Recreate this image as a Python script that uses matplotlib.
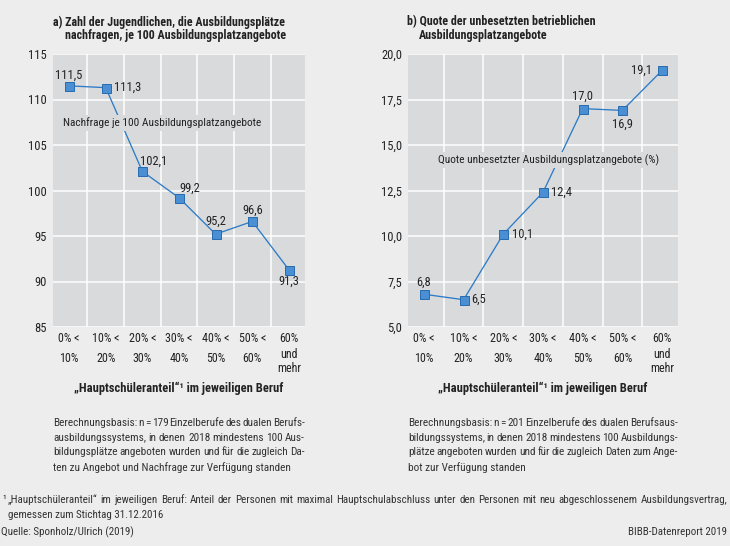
import matplotlib
matplotlib.use("Agg")
import matplotlib.pyplot as plt
import matplotlib.transforms as mtransforms

plt.rcParams['font.family'] = ['Liberation Sans Narrow', 'Roboto Condensed', 'DejaVu Sans']

# data
categories = [["0% <", "10%"], ["10% <", "20%"], ["20% <", "30%"], ["30% <", "40%"],
              ["40% <", "50%"], ["50% <", "60%"], ["60%", "und", "mehr"]]
nachfrage = [111.5, 111.3, 102.1, 99.2, 95.2, 96.6, 91.3]
quote = [6.8, 6.5, 10.1, 12.4, 17.0, 16.9, 19.1]
yticks_a = [85, 90, 95, 100, 105, 110, 115]
yticks_b = [5.0, 7.5, 10.0, 12.5, 15.0, 17.5, 20.0]

W, H = 730, 546
BG = "#ededee"
PLOT_BG = "#d9dadc"
LINE = "#2b7bc7"
MFACE = "#4a8fd4"
MEDGE = "#2a6cb0"
TXT = "#222222"
NOTE = "#333333"

fig = plt.figure(figsize=(W / 72, H / 72), dpi=72, facecolor=BG)
renderer = fig.canvas.get_renderer()


def fx(x):
    return x / W


def fy(y):
    return 1 - y / H


def text_width(s, size):
    t = fig.text(0, 0, s, fontsize=size)
    w = t.get_window_extent(renderer).width
    t.remove()
    return w


def justify(line, x0, x1, y, size):
    # spread the words of one line over x0..x1 (pixels)
    words = line.split()
    full = text_width(line, size)
    extra = (x1 - x0 - full) / max(len(words) - 1, 1)
    for k, w in enumerate(words):
        start = text_width(" ".join(words[:k + 1]), size) - text_width(w, size)
        fig.text(fx(x0 + start + k * extra), fy(y), w, fontsize=size, va="center",
                 color=NOTE)


def setup(ax, ylim, yticks, ylabels, xlim):
    ax.set_facecolor(PLOT_BG)
    for s in ax.spines.values():
        s.set_visible(False)
    ax.set_xlim(*xlim)
    ax.set_ylim(*ylim)
    ax.set_yticks(yticks)
    ax.set_yticklabels(ylabels, fontsize=12.5, color=TXT)
    ax.set_xticks([i + 0.5 for i in range(6)])
    ax.set_xticklabels([])
    ax.tick_params(length=0, pad=6)
    ax.grid(True, color="white", linewidth=1.5)
    ax.set_axisbelow(True)
    tr = mtransforms.blended_transform_factory(ax.transData, fig.transFigure)
    for i, lines in enumerate(categories):
        ys = [338, 359] if len(lines) == 2 else [338, 354, 369]
        for t, y in zip(lines, ys):
            ax.text(i, fy(y), t, transform=tr, ha="center", va="center",
                    fontsize=12, color=TXT)


def draw(ax, vals, fmt, offsets):
    x = list(range(len(vals)))
    ax.plot(x, vals, color=LINE, linewidth=1.3, marker="s", markersize=9,
            markerfacecolor=MFACE, markeredgecolor=MEDGE, markeredgewidth=1.0,
            zorder=3)
    for i, v in enumerate(vals):
        dx, dy, ha = offsets[i]
        ax.annotate(fmt(v), (i, v), xytext=(dx, dy), textcoords="offset points",
                    ha=ha, va="center", fontsize=12.5, color=TXT, zorder=5)


comma = lambda v: f"{v:.1f}".replace(".", ",")

# panel a
ax1 = fig.add_axes([fx(53), fy(327), 252 / W, 273 / H])
setup(ax1, (85, 115), yticks_a, [str(t) for t in yticks_a], (-0.44, 6.44))
draw(ax1, nachfrage, comma,
     [(0, 11, "center"), (8, 0, "left"), (11, 10, "center"), (11, 10, "center"),
      (0, 13, "center"), (0, 11, "center"), (0, -12, "center")])
ax1.text((162 - 53) / 252, (327 - 123) / 273, "Nachfrage je 100 Ausbildungsplatzangebote",
         transform=ax1.transAxes, ha="center", va="center", fontsize=11.4, color=TXT,
         bbox=dict(facecolor=PLOT_BG, edgecolor="none", pad=2), zorder=4)

# panel b
ax2 = fig.add_axes([fx(408), fy(327), 270 / W, 273 / H])
setup(ax2, (5, 20), yticks_b, [comma(t) for t in yticks_b], (-0.4, 6.4))
draw(ax2, quote, comma,
     [(0, 12, "center"), (8, 0, "left"), (9, 0, "left"), (8, 0, "left"),
      (0, 12, "center"), (0, -14, "center"), (-10, 0, "right")])
ax2.text((549 - 408) / 270, (327 - 160) / 273, "Quote unbesetzter Ausbildungsplatzangebote (%)",
         transform=ax2.transAxes, ha="center", va="center", fontsize=11.4, color=TXT,
         bbox=dict(facecolor=PLOT_BG, edgecolor="none", pad=2), zorder=4)

# titles
fig.text(fx(53), fy(22), "a) Zahl der Jugendlichen, die Ausbildungsplätze", fontsize=12,
         fontweight="bold", va="center", color=TXT)
fig.text(fx(65), fy(36), "nachfragen, je 100 Ausbildungsplatzangebote", fontsize=12,
         fontweight="bold", va="center", color=TXT)
fig.text(fx(407), fy(22), "b) Quote der unbesetzten betrieblichen", fontsize=12,
         fontweight="bold", va="center", color=TXT)
fig.text(fx(419), fy(36), "Ausbildungsplatzangebote", fontsize=12,
         fontweight="bold", va="center", color=TXT)

# x axis titles
xlab = "„Hauptschüleranteil“¹ im jeweiligen Beruf"
fig.text(fx(179), fy(388), xlab, fontsize=12.5, fontweight="bold", ha="center",
         va="center", color=TXT)
fig.text(fx(543), fy(388), xlab, fontsize=12.5, fontweight="bold", ha="center",
         va="center", color=TXT)

notes_a = ["Berechnungsbasis: n = 179 Einzelberufe des dualen Berufs-",
           "ausbildungssystems, in denen 2018 mindestens 100 Aus-",
           "bildungsplätze angeboten wurden und für die zugleich Da-",
           "ten zu Angebot und Nachfrage zur Verfügung standen"]
notes_b = ["Berechnungsbasis: n = 201 Einzelberufe des dualen Berufsaus-",
           "bildungssystems, in denen 2018 mindestens 100 Ausbildungs-",
           "plätze angeboten wurden und für die zugleich Daten zum Ange-",
           "bot zur Verfügung standen"]
for k, (la, lb) in enumerate(zip(notes_a, notes_b)):
    y = 423 + k * 14.7
    if k < len(notes_a) - 1:
        justify(la, 53, 305, y, 11.3)
        justify(lb, 408, 678, y, 11.3)
    else:
        fig.text(fx(53), fy(y), la, fontsize=11.3, va="center", color=NOTE)
        fig.text(fx(408), fy(y), lb, fontsize=11.3, va="center", color=NOTE)

fig.text(fx(2), fy(500), "¹", fontsize=11, va="center", color=NOTE)
justify("„Hauptschüleranteil“ im jeweiligen Beruf: Anteil der Personen mit "
        "maximal Hauptschulabschluss unter den Personen mit neu abgeschlossenem "
        "Ausbildungsvertrag,", 8, 727, 500, 11)
fig.text(fx(8), fy(515), "gemessen zum Stichtag 31.12.2016", fontsize=11, va="center",
         color=NOTE)
fig.text(fx(1), fy(532), "Quelle: Sponholz/Ulrich (2019)", fontsize=11, va="center",
         color=NOTE)
fig.text(fx(727), fy(532), "BIBB-Datenreport 2019", fontsize=11, va="center", ha="right",
         color=NOTE)

fig.savefig("out.png", dpi=72, facecolor=BG)
